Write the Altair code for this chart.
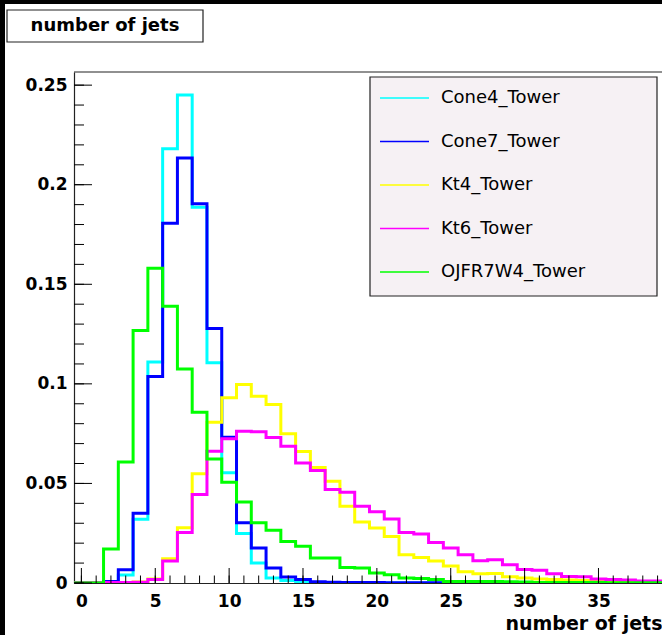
import altair as alt
import pandas as pd

# Normalised jet-multiplicity histograms, one value per integer bin (0..39)
bin_centers = list(range(40))

series_names = ["Cone4_Tower", "Cone7_Tower", "Kt4_Tower", "Kt6_Tower", "OJFR7W4_Tower"]
series_colors = ["#00ffff", "#0000ff", "#ffff00", "#ff00ff", "#00ff00"]

cone4_tower = [0, 0, 0.0005, 0.004, 0.032, 0.111, 0.218, 0.245, 0.1887, 0.1106,
               0.0553, 0.0248, 0.010, 0.0025, 0.0013, 0.0007, 0.0003, 0.0001, 0.0001, 0,
               0, 0, 0, 0, 0, 0, 0, 0, 0, 0,
               0, 0, 0, 0, 0, 0, 0, 0, 0, 0]
cone7_tower = [0, 0, 0.0008, 0.0067, 0.035, 0.1037, 0.1806, 0.2134, 0.1904, 0.1278,
               0.0732, 0.0302, 0.0176, 0.0075, 0.003, 0.0017, 0.0006, 0.0004, 0.0003, 0.0002,
               0.0002, 0.0001, 0.0001, 0.0001, 0.0001, 0, 0, 0, 0, 0,
               0, 0, 0, 0, 0, 0, 0, 0, 0, 0]
kt4_tower = [0, 0, 0.0002, 0.0003, 0.0005, 0.002, 0.0122, 0.0278, 0.0549, 0.0807,
             0.093, 0.0997, 0.0938, 0.0896, 0.075, 0.066, 0.058, 0.0511, 0.0385, 0.0306,
             0.0276, 0.0234, 0.0142, 0.0128, 0.011, 0.0085, 0.0057, 0.0046, 0.0048, 0.0032,
             0.0025, 0.002, 0.0018, 0.0015, 0.0013, 0.0011, 0.001, 0.0008, 0.0007, 0.0006]
kt6_tower = [0, 0, 0.0003, 0.0003, 0.0004, 0.0018, 0.011, 0.0254, 0.0444, 0.0661,
             0.0724, 0.0762, 0.0759, 0.0731, 0.0687, 0.0603, 0.0565, 0.0469, 0.0456, 0.0385,
             0.0358, 0.0322, 0.0253, 0.0246, 0.0204, 0.0176, 0.0142, 0.0112, 0.0117, 0.0092,
             0.0068, 0.0064, 0.0047, 0.0033, 0.0032, 0.002, 0.0018, 0.0015, 0.001, 0.001]
ojfr7w4_tower = [0, 0, 0.0171, 0.0608, 0.1268, 0.158, 0.139, 0.1075, 0.0857, 0.0623,
                 0.0506, 0.0407, 0.0302, 0.0265, 0.0209, 0.0184, 0.0126, 0.0126, 0.0078, 0.0075,
                 0.005, 0.0042, 0.0025, 0.0022, 0.0018, 0.0008, 0.0008, 0.0008, 0.0008, 0.0006,
                 0.0005, 0.0003, 0.0003, 0.0002, 0.0002, 0.0002, 0.0001, 0.0001, 0.0001, 0.0001]

series_values = [cone4_tower, cone7_tower, kt4_tower, kt6_tower, ojfr7w4_tower]

# Axis ticks and labels
x_major = [0, 5, 10, 15, 20, 25, 30, 35]
x_minor = list(range(40))
y_major = [0, 0.05, 0.1, 0.15, 0.2, 0.25]
y_minor = [i / 100 for i in range(26)]

title_text = "number of jets"
x_title = "number of jets"

FONT = "DejaVu Sans"
W, H = 588, 511
PAD_L, PAD_T, PAD_B = 74, 72, 52

xscale = alt.Scale(domain=[-0.5, 39.3], nice=False, zero=False)
yscale = alt.Scale(domain=[0, 0.2566], nice=False, zero=False)

# The same axis objects are given to every layer that uses x / y, so the
# shared axes merge without conflicts.
x_axis = alt.Axis(
    values=x_major, format="d", grid=False, ticks=False, tickSize=0,
    domain=True, domainColor="#222", domainWidth=1.2,
    labelFont=FONT, labelFontSize=17, labelFontWeight="bold", labelColor="black",
    labelBaseline="alphabetic", labelPadding=23, labelFlush=False,
    title=x_title, titleFont=FONT, titleFontSize=19, titleFontWeight="bold",
    titleColor="black", titleAnchor="end", titleAlign="right",
    titleBaseline="alphabetic", titleX=W, titleY=46,
)
y_axis = alt.Axis(
    values=y_major, format=".2~f", grid=False, ticks=False, tickSize=0,
    domain=True, domainColor="#222", domainWidth=1.2,
    labelFont=FONT, labelFontSize=17, labelFontWeight="bold", labelColor="black",
    labelPadding=7, title=None,
)


def one_row():
    return pd.DataFrame({"k": [0]})


def hist_layer(values, color):
    edges = [c - 0.5 for c in bin_centers] + [bin_centers[-1] + 0.5]
    df = pd.DataFrame({"edge": edges, "value": values + [values[-1]]})
    return alt.Chart(df).mark_line(
        interpolate="step-after", color=color, strokeWidth=3,
        strokeJoin="miter", strokeCap="butt", clip=True,
    ).encode(
        x=alt.X("edge:Q", scale=xscale, axis=x_axis),
        y=alt.Y("value:Q", scale=yscale, axis=y_axis),
        order="edge:Q",
    )


layers = []

# black border strips at top and left of the canvas
layers.append(alt.Chart(one_row()).mark_rect(color="black").encode(
    x=alt.value(-PAD_L), x2=alt.value(-PAD_L + 5),
    y=alt.value(-PAD_T), y2=alt.value(H + PAD_B)))
layers.append(alt.Chart(one_row()).mark_rect(color="black").encode(
    x=alt.value(-PAD_L), x2=alt.value(W),
    y=alt.value(-PAD_T), y2=alt.value(-PAD_T + 4)))

# histograms, drawn in legend order
for vals, col in zip(series_values, series_colors):
    layers.append(hist_layer(vals, col))

# top frame line
layers.append(alt.Chart(one_row()).mark_rule(color="#222", strokeWidth=1.2).encode(
    x=alt.value(0), x2=alt.value(W), y=alt.value(0)))

# inward ticks
layers.append(alt.Chart(pd.DataFrame({"v": y_major})).mark_rule(color="black", strokeWidth=1).encode(
    y=alt.Y("v:Q", scale=yscale, axis=y_axis), x=alt.value(0), x2=alt.value(18)))
layers.append(alt.Chart(pd.DataFrame({"v": y_minor})).mark_rule(color="black", strokeWidth=1).encode(
    y=alt.Y("v:Q", scale=yscale, axis=y_axis), x=alt.value(0), x2=alt.value(10)))
layers.append(alt.Chart(pd.DataFrame({"v": x_major})).mark_rule(color="black", strokeWidth=1).encode(
    x=alt.X("v:Q", scale=xscale, axis=x_axis), y=alt.value(H), y2=alt.value(H - 15)))
layers.append(alt.Chart(pd.DataFrame({"v": x_minor})).mark_rule(color="black", strokeWidth=1).encode(
    x=alt.X("v:Q", scale=xscale, axis=x_axis), y=alt.value(H), y2=alt.value(H - 7.5)))

# title box
layers.append(alt.Chart(one_row()).mark_rect(fill="white", stroke="#222", strokeWidth=1.2).encode(
    x=alt.value(-67), x2=alt.value(129), y=alt.value(-62), y2=alt.value(-30)))
layers.append(alt.Chart(one_row()).mark_text(
    text=title_text, font=FONT, fontSize=18, fontWeight="bold", color="black",
    align="center", baseline="middle").encode(x=alt.value(31), y=alt.value(-46)))

# legend box and entries
layers.append(alt.Chart(one_row()).mark_rect(fill="#f6f1f4", stroke="#222", strokeWidth=1.2).encode(
    x=alt.value(296), x2=alt.value(583), y=alt.value(5), y2=alt.value(224)))
row0, row_gap = 26, 43.5
for i, (name, col) in enumerate(zip(series_names, series_colors)):
    ry = row0 + i * row_gap
    layers.append(alt.Chart(one_row()).mark_rule(color=col, strokeWidth=1.5).encode(
        x=alt.value(306), x2=alt.value(355), y=alt.value(ry)))
    layers.append(alt.Chart(one_row()).mark_text(
        text=name, font=FONT, fontSize=18, color="black",
        align="left", baseline="middle").encode(x=alt.value(367), y=alt.value(ry)))

chart = alt.layer(*layers).properties(
    width=W, height=H,
    padding={"left": PAD_L, "top": PAD_T, "right": 0, "bottom": PAD_B},
    autosize="none", background="white",
).configure_view(stroke=None)

chart.save("out.html", embed_options={"renderer": "svg", "actions": False})
